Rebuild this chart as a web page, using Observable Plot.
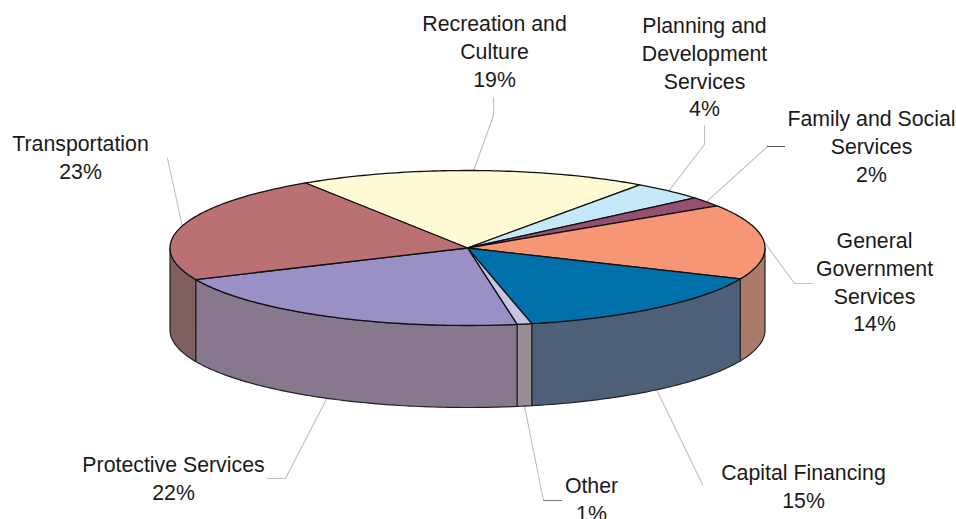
<!DOCTYPE html>
<html><head><meta charset="utf-8">
<script src="https://cdn.jsdelivr.net/npm/d3@7"></script>
<script src="https://cdn.jsdelivr.net/npm/@observablehq/plot@0.6"></script>
<style>html,body{margin:0;padding:0;background:#fff;overflow:hidden}svg{display:block}</style>
</head><body><div id="chart"></div>
<script>
const categories = ["Recreation and Culture","Planning and Development Services","Family and Social Services","General Government Services","Capital Financing","Other","Protective Services","Transportation"];
const labels = ["19%","4%","2%","14%","15%","1%","22%","23%"];
// slice shares
const shares = [19,4,2,15.7,15,0.8,21,22.5];
const topColors = ["#fffbd4","#c4e8f8","#945070","#f79674","#0070aa","#c8c4e4","#9a90c6","#bb7074"];
const sideColors = ["#8a8a70","#7a8a90","#5a3048","#aa7a6a","#4e6078","#9a8e96","#87788e","#80605e"];
const labelLines = [["Recreation and","Culture"],["Planning and","Development","Services"],["Family and Social","Services"],["General","Government","Services"],["Capital Financing"],["Other"],["Protective Services"],["Transportation"]];

// layout
const cx=467, cy=247.5, rx=297.5, ry=77.5, depth=82, startDeg=-33;
const labelAt = [[494,24],[704,26],[871,119],[874,241],[803,473],[591,486],[173,465],[80,144]];
const bends = [[[493,115],[493,97]],[[704,144],[704,125]],[[767,146],[784,146]],[[794,283],[812,283]],[[702,484]],[[543,500],[561,500]],[[285,478],[267,478]],[[167,158]]];
const tailColors = ["#c4bebe","#c4bebe","#555555","#c4bebe","#c4bebe","#777777","#c4bebe","#c4bebe"];
const lineH=27.7, fontSize=21.3;

const pt=(t,d=0)=>({x:cx+rx*Math.sin(t),y:cy-ry*Math.cos(t)+d});
let acc=startDeg*Math.PI/180;
const total=d3.sum(shares);
const slices=categories.map((c,i)=>{const a0=acc;acc+=shares[i]/total*2*Math.PI;return {i,c,a0,a1:acc};});
const arc=(a0,a1,d=0)=>{const n=Math.max(2,Math.ceil((a1-a0)*60));return d3.range(n+1).map(k=>pt(a0+(a1-a0)*k/n,d));};

const tops=slices.flatMap(s=>[{x:cx,y:cy},...arc(s.a0,s.a1),{x:cx,y:cy}].map(p=>({...p,z:"t"+s.i,fill:topColors[s.i]})));
const sides=[];
for(const s of slices){
  const lo=Math.max(s.a0,Math.PI/2),hi=Math.min(s.a1,1.5*Math.PI);
  if(hi>lo) sides.push(...[...arc(lo,hi),...arc(lo,hi,depth).reverse(),pt(lo)].map(p=>({...p,z:"s"+s.i,fill:sideColors[s.i]})));
}
const leaders=slices.flatMap(s=>{
  const m=(s.a0+s.a1)/2; const front=Math.cos(m)<0;
  const p=pt(m,front?depth:0);
  return [p,...bends[s.i].map(([x,y])=>({x,y}))].map(q=>({...q,z:s.i}));
});
const tails=slices.filter(s=>tailColors[s.i]!=="#c4bebe").flatMap(s=>bends[s.i].map(([x,y])=>({x,y,z:s.i,stroke:tailColors[s.i]})));
const texts=categories.flatMap((c,i)=>{
  const rows=[...labelLines[i],labels[i]];
  return rows.map((t,k)=>({t,x:labelAt[i][0],y:labelAt[i][1]+k*lineH}));
});
const plot=Plot.plot({width:956,height:519,margin:0,
  x:{domain:[0,956],range:[0,956],axis:null},
  y:{domain:[0,519],range:[0,519],axis:null},
  marks:[
    Plot.line(leaders,{x:"x",y:"y",z:"z",stroke:"#c4bebe",strokeWidth:1.1,curve:"linear"}),
    Plot.line(tails,{x:"x",y:"y",z:"z",stroke:"stroke",strokeWidth:1.1,curve:"linear"}),
    Plot.line(sides,{x:"x",y:"y",z:"z",fill:"fill",stroke:"#222",strokeWidth:1.2,curve:"linear"}),
    Plot.line(tops,{x:"x",y:"y",z:"z",fill:"fill",stroke:"#111",strokeWidth:1.3,curve:"linear"}),
    Plot.text(texts,{x:"x",y:"y",text:"t",fontSize,fill:"#1a1a1a",fontFamily:"Liberation Sans, Arial, sans-serif",textAnchor:"middle",lineAnchor:"middle"})
  ]});
document.getElementById("chart").append(plot);
</script></body></html>
